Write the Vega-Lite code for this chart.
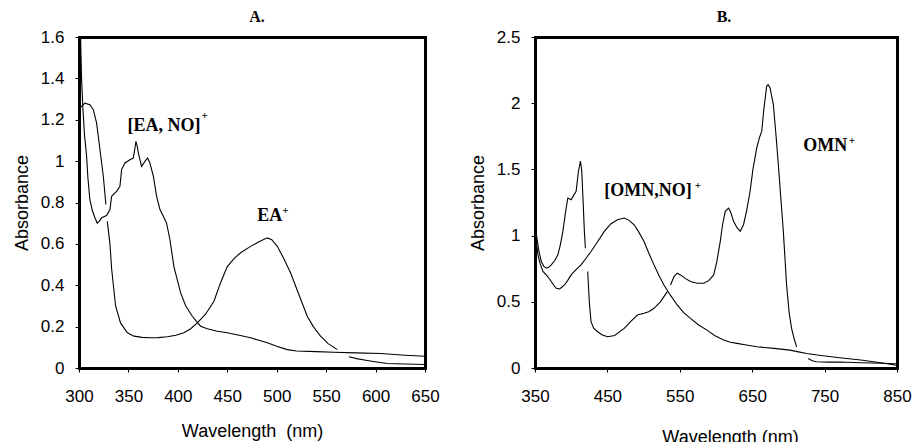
{
  "$schema": "https://vega.github.io/schema/vega-lite/v6.json",
  "padding": {"left": 13, "top": 9, "right": 2, "bottom": 2},
  "spacing": 29,
  "config": {
    "view": {"stroke": null},
    "axis": {"grid": false, "domain": true, "domainColor": "black", "domainWidth": 3, "domainCap": "square", "ticks": true, "tickSize": 4, "tickColor": "black", "labelFont": "Liberation Sans", "labelFontSize": 17, "labelColor": "black", "labelFlush": false, "labelOverlap": false, "labelBound": false, "titleFont": "Liberation Sans", "titleFontSize": 18, "titleFontWeight": "normal", "titleColor": "black"},
    "axisX": {"labelPadding": 16, "titlePadding": 18},
    "axisY": {"labelPadding": 11, "titlePadding": 9},
    "title": {"font": "Liberation Serif", "fontSize": 16, "fontWeight": "bold", "color": "black"}
  },
  "datasets": {
    "specA": [
      {"s": "EA+ 1", "wl": 301, "abs": 1.257}, {"s": "EA+ 1", "wl": 306, "abs": 1.28}, {"s": "EA+ 1", "wl": 311, "abs": 1.273}, {"s": "EA+ 1", "wl": 314.5, "abs": 1.249}, {"s": "EA+ 1", "wl": 317.8, "abs": 1.184}, {"s": "EA+ 1", "wl": 321.2, "abs": 1.056}, {"s": "EA+ 1", "wl": 324.6, "abs": 0.927}, {"s": "EA+ 1", "wl": 327.2, "abs": 0.79},
      {"s": "EA+ 2", "wl": 328.6, "abs": 0.709}, {"s": "EA+ 2", "wl": 331.3, "abs": 0.6}, {"s": "EA+ 2", "wl": 333, "abs": 0.48}, {"s": "EA+ 2", "wl": 337, "abs": 0.3}, {"s": "EA+ 2", "wl": 342, "abs": 0.218}, {"s": "EA+ 2", "wl": 348.9, "abs": 0.17}, {"s": "EA+ 2", "wl": 355.6, "abs": 0.154}, {"s": "EA+ 2", "wl": 364, "abs": 0.148}, {"s": "EA+ 2", "wl": 372.4, "abs": 0.146}, {"s": "EA+ 2", "wl": 380, "abs": 0.147}, {"s": "EA+ 2", "wl": 389.3, "abs": 0.151}, {"s": "EA+ 2", "wl": 398, "abs": 0.158}, {"s": "EA+ 2", "wl": 406.1, "abs": 0.17}, {"s": "EA+ 2", "wl": 413, "abs": 0.19}, {"s": "EA+ 2", "wl": 419.7, "abs": 0.218}, {"s": "EA+ 2", "wl": 428, "abs": 0.26}, {"s": "EA+ 2", "wl": 436.5, "abs": 0.323}, {"s": "EA+ 2", "wl": 443, "abs": 0.41}, {"s": "EA+ 2", "wl": 450, "abs": 0.49}, {"s": "EA+ 2", "wl": 457, "abs": 0.53}, {"s": "EA+ 2", "wl": 463.5, "abs": 0.557}, {"s": "EA+ 2", "wl": 473.6, "abs": 0.588}, {"s": "EA+ 2", "wl": 482, "abs": 0.61}, {"s": "EA+ 2", "wl": 490.5, "abs": 0.629}, {"s": "EA+ 2", "wl": 495, "abs": 0.62}, {"s": "EA+ 2", "wl": 500.6, "abs": 0.588}, {"s": "EA+ 2", "wl": 507, "abs": 0.53}, {"s": "EA+ 2", "wl": 514, "abs": 0.46}, {"s": "EA+ 2", "wl": 522, "abs": 0.36}, {"s": "EA+ 2", "wl": 530.9, "abs": 0.25}, {"s": "EA+ 2", "wl": 537, "abs": 0.2}, {"s": "EA+ 2", "wl": 544.3, "abs": 0.154}, {"s": "EA+ 2", "wl": 552, "abs": 0.118}, {"s": "EA+ 2", "wl": 561.3, "abs": 0.089},
      {"s": "EA+ 3", "wl": 573, "abs": 0.054}, {"s": "EA+ 3", "wl": 582, "abs": 0.044}, {"s": "EA+ 3", "wl": 591.6, "abs": 0.036}, {"s": "EA+ 3", "wl": 601, "abs": 0.029}, {"s": "EA+ 3", "wl": 611.9, "abs": 0.022}, {"s": "EA+ 3", "wl": 630, "abs": 0.019}, {"s": "EA+ 3", "wl": 650, "abs": 0.017},
      {"s": "EANO", "wl": 301.6, "abs": 1.6}, {"s": "EANO", "wl": 302.6, "abs": 1.4}, {"s": "EANO", "wl": 304, "abs": 1.25}, {"s": "EANO", "wl": 305.5, "abs": 1.13}, {"s": "EANO", "wl": 307.7, "abs": 1.023}, {"s": "EANO", "wl": 309, "abs": 0.92}, {"s": "EANO", "wl": 311, "abs": 0.814}, {"s": "EANO", "wl": 313.5, "abs": 0.76}, {"s": "EANO", "wl": 316.1, "abs": 0.726}, {"s": "EANO", "wl": 318.5, "abs": 0.7}, {"s": "EANO", "wl": 320.5, "abs": 0.71}, {"s": "EANO", "wl": 322.9, "abs": 0.726}, {"s": "EANO", "wl": 327.9, "abs": 0.737}, {"s": "EANO", "wl": 331.3, "abs": 0.766}, {"s": "EANO", "wl": 333, "abs": 0.83}, {"s": "EANO", "wl": 338, "abs": 0.854}, {"s": "EANO", "wl": 341.4, "abs": 0.878}, {"s": "EANO", "wl": 343.1, "abs": 0.959}, {"s": "EANO", "wl": 346.5, "abs": 0.991}, {"s": "EANO", "wl": 351.5, "abs": 1.007}, {"s": "EANO", "wl": 354.9, "abs": 1.015}, {"s": "EANO", "wl": 356.5, "abs": 1.06}, {"s": "EANO", "wl": 357.6, "abs": 1.096}, {"s": "EANO", "wl": 359, "abs": 1.07}, {"s": "EANO", "wl": 360, "abs": 1.04}, {"s": "EANO", "wl": 363.3, "abs": 0.975}, {"s": "EANO", "wl": 366.7, "abs": 0.999}, {"s": "EANO", "wl": 369.4, "abs": 1.015}, {"s": "EANO", "wl": 371.7, "abs": 0.991}, {"s": "EANO", "wl": 375.2, "abs": 0.927}, {"s": "EANO", "wl": 378.5, "abs": 0.83}, {"s": "EANO", "wl": 381.9, "abs": 0.766}, {"s": "EANO", "wl": 385.3, "abs": 0.733}, {"s": "EANO", "wl": 388.6, "abs": 0.7}, {"s": "EANO", "wl": 392, "abs": 0.62}, {"s": "EANO", "wl": 396, "abs": 0.49}, {"s": "EANO", "wl": 402.8, "abs": 0.363}, {"s": "EANO", "wl": 408, "abs": 0.3}, {"s": "EANO", "wl": 414.6, "abs": 0.25}, {"s": "EANO", "wl": 423, "abs": 0.202}, {"s": "EANO", "wl": 429.8, "abs": 0.19}, {"s": "EANO", "wl": 440, "abs": 0.178}, {"s": "EANO", "wl": 450, "abs": 0.17}, {"s": "EANO", "wl": 462, "abs": 0.158}, {"s": "EANO", "wl": 473.6, "abs": 0.146}, {"s": "EANO", "wl": 482, "abs": 0.134}, {"s": "EANO", "wl": 490.5, "abs": 0.122}, {"s": "EANO", "wl": 500, "abs": 0.105}, {"s": "EANO", "wl": 510.7, "abs": 0.089}, {"s": "EANO", "wl": 520, "abs": 0.082}, {"s": "EANO", "wl": 540, "abs": 0.079}, {"s": "EANO", "wl": 557.8, "abs": 0.076}, {"s": "EANO", "wl": 580, "abs": 0.073}, {"s": "EANO", "wl": 605, "abs": 0.07}, {"s": "EANO", "wl": 630, "abs": 0.062}, {"s": "EANO", "wl": 650, "abs": 0.057}
    ],
    "specB": [
      {"s": "OMN 1", "wl": 350.3, "abs": 1.05}, {"s": "OMN 1", "wl": 352.7, "abs": 0.981}, {"s": "OMN 1", "wl": 355.5, "abs": 0.88}, {"s": "OMN 1", "wl": 358.7, "abs": 0.804}, {"s": "OMN 1", "wl": 362, "abs": 0.77}, {"s": "OMN 1", "wl": 365.6, "abs": 0.754}, {"s": "OMN 1", "wl": 369, "abs": 0.76}, {"s": "OMN 1", "wl": 372.4, "abs": 0.779}, {"s": "OMN 1", "wl": 377, "abs": 0.81}, {"s": "OMN 1", "wl": 381.6, "abs": 0.855}, {"s": "OMN 1", "wl": 385, "abs": 0.93}, {"s": "OMN 1", "wl": 388.5, "abs": 1.032}, {"s": "OMN 1", "wl": 392, "abs": 1.17}, {"s": "OMN 1", "wl": 395.3, "abs": 1.284}, {"s": "OMN 1", "wl": 399.9, "abs": 1.271}, {"s": "OMN 1", "wl": 403, "abs": 1.3}, {"s": "OMN 1", "wl": 406.8, "abs": 1.335}, {"s": "OMN 1", "wl": 410, "abs": 1.486}, {"s": "OMN 1", "wl": 412.8, "abs": 1.562}, {"s": "OMN 1", "wl": 414.6, "abs": 1.486}, {"s": "OMN 1", "wl": 416.5, "abs": 1.25}, {"s": "OMN 1", "wl": 418.2, "abs": 1.032}, {"s": "OMN 1", "wl": 419.6, "abs": 0.905},
      {"s": "OMN 2", "wl": 422.8, "abs": 0.729}, {"s": "OMN 2", "wl": 425, "abs": 0.5}, {"s": "OMN 2", "wl": 427.4, "abs": 0.35}, {"s": "OMN 2", "wl": 431, "abs": 0.3}, {"s": "OMN 2", "wl": 436.5, "abs": 0.274}, {"s": "OMN 2", "wl": 443, "abs": 0.25}, {"s": "OMN 2", "wl": 450.3, "abs": 0.236}, {"s": "OMN 2", "wl": 460, "abs": 0.245}, {"s": "OMN 2", "wl": 473.2, "abs": 0.299}, {"s": "OMN 2", "wl": 482, "abs": 0.35}, {"s": "OMN 2", "wl": 491.5, "abs": 0.4}, {"s": "OMN 2", "wl": 500.6, "abs": 0.413}, {"s": "OMN 2", "wl": 507, "abs": 0.425}, {"s": "OMN 2", "wl": 514.4, "abs": 0.451}, {"s": "OMN 2", "wl": 523.5, "abs": 0.501}, {"s": "OMN 2", "wl": 532.7, "abs": 0.577},
      {"s": "OMN 3", "wl": 537.2, "abs": 0.627}, {"s": "OMN 3", "wl": 542, "abs": 0.69}, {"s": "OMN 3", "wl": 546.4, "abs": 0.716}, {"s": "OMN 3", "wl": 551, "abs": 0.703}, {"s": "OMN 3", "wl": 558, "abs": 0.675}, {"s": "OMN 3", "wl": 564.7, "abs": 0.653}, {"s": "OMN 3", "wl": 574, "abs": 0.64}, {"s": "OMN 3", "wl": 583, "abs": 0.64}, {"s": "OMN 3", "wl": 590, "abs": 0.66}, {"s": "OMN 3", "wl": 596.8, "abs": 0.703}, {"s": "OMN 3", "wl": 601, "abs": 0.8}, {"s": "OMN 3", "wl": 605.9, "abs": 0.956}, {"s": "OMN 3", "wl": 609, "abs": 1.08}, {"s": "OMN 3", "wl": 612.8, "abs": 1.183}, {"s": "OMN 3", "wl": 617.4, "abs": 1.208}, {"s": "OMN 3", "wl": 620, "abs": 1.18}, {"s": "OMN 3", "wl": 624.3, "abs": 1.108}, {"s": "OMN 3", "wl": 629, "abs": 1.06}, {"s": "OMN 3", "wl": 633.4, "abs": 1.032}, {"s": "OMN 3", "wl": 638, "abs": 1.082}, {"s": "OMN 3", "wl": 642, "abs": 1.18}, {"s": "OMN 3", "wl": 647.1, "abs": 1.335}, {"s": "OMN 3", "wl": 651, "abs": 1.5}, {"s": "OMN 3", "wl": 656.3, "abs": 1.663}, {"s": "OMN 3", "wl": 660, "abs": 1.74}, {"s": "OMN 3", "wl": 663.2, "abs": 1.789}, {"s": "OMN 3", "wl": 666, "abs": 1.95}, {"s": "OMN 3", "wl": 670, "abs": 2.13}, {"s": "OMN 3", "wl": 672, "abs": 2.14}, {"s": "OMN 3", "wl": 674.6, "abs": 2.117}, {"s": "OMN 3", "wl": 679.2, "abs": 1.991}, {"s": "OMN 3", "wl": 683, "abs": 1.75}, {"s": "OMN 3", "wl": 686.1, "abs": 1.536}, {"s": "OMN 3", "wl": 690, "abs": 1.25}, {"s": "OMN 3", "wl": 693, "abs": 1.032}, {"s": "OMN 3", "wl": 697.5, "abs": 0.627}, {"s": "OMN 3", "wl": 701, "abs": 0.42}, {"s": "OMN 3", "wl": 704.4, "abs": 0.299}, {"s": "OMN 3", "wl": 708, "abs": 0.22}, {"s": "OMN 3", "wl": 711.3, "abs": 0.16},
      {"s": "OMN 4", "wl": 727.3, "abs": 0.072}, {"s": "OMN 4", "wl": 733, "abs": 0.055}, {"s": "OMN 4", "wl": 738.7, "abs": 0.047}, {"s": "OMN 4", "wl": 755, "abs": 0.044}, {"s": "OMN 4", "wl": 770.8, "abs": 0.045}, {"s": "OMN 4", "wl": 800, "abs": 0.04}, {"s": "OMN 4", "wl": 830, "abs": 0.036}, {"s": "OMN 4", "wl": 848.6, "abs": 0.032},
      {"s": "OMNNO", "wl": 350.3, "abs": 1.06}, {"s": "OMNNO", "wl": 352, "abs": 0.95}, {"s": "OMNNO", "wl": 354.1, "abs": 0.855}, {"s": "OMNNO", "wl": 357, "abs": 0.79}, {"s": "OMNNO", "wl": 361, "abs": 0.729}, {"s": "OMNNO", "wl": 365.6, "abs": 0.703}, {"s": "OMNNO", "wl": 369, "abs": 0.68}, {"s": "OMNNO", "wl": 372.4, "abs": 0.653}, {"s": "OMNNO", "wl": 376, "abs": 0.625}, {"s": "OMNNO", "wl": 379.3, "abs": 0.602}, {"s": "OMNNO", "wl": 383.9, "abs": 0.597}, {"s": "OMNNO", "wl": 387, "abs": 0.61}, {"s": "OMNNO", "wl": 390.8, "abs": 0.627}, {"s": "OMNNO", "wl": 395, "abs": 0.66}, {"s": "OMNNO", "wl": 399.9, "abs": 0.703}, {"s": "OMNNO", "wl": 406, "abs": 0.74}, {"s": "OMNNO", "wl": 413.6, "abs": 0.779}, {"s": "OMNNO", "wl": 420, "abs": 0.825}, {"s": "OMNNO", "wl": 427.4, "abs": 0.88}, {"s": "OMNNO", "wl": 436, "abs": 0.95}, {"s": "OMNNO", "wl": 445.7, "abs": 1.032}, {"s": "OMNNO", "wl": 455, "abs": 1.09}, {"s": "OMNNO", "wl": 464, "abs": 1.12}, {"s": "OMNNO", "wl": 473.2, "abs": 1.133}, {"s": "OMNNO", "wl": 480, "abs": 1.115}, {"s": "OMNNO", "wl": 486.9, "abs": 1.082}, {"s": "OMNNO", "wl": 493, "abs": 1.03}, {"s": "OMNNO", "wl": 500.6, "abs": 0.956}, {"s": "OMNNO", "wl": 507, "abs": 0.87}, {"s": "OMNNO", "wl": 514.4, "abs": 0.779}, {"s": "OMNNO", "wl": 521, "abs": 0.7}, {"s": "OMNNO", "wl": 528.1, "abs": 0.627}, {"s": "OMNNO", "wl": 537, "abs": 0.55}, {"s": "OMNNO", "wl": 546.4, "abs": 0.476}, {"s": "OMNNO", "wl": 555, "abs": 0.42}, {"s": "OMNNO", "wl": 564.7, "abs": 0.375}, {"s": "OMNNO", "wl": 576, "abs": 0.325}, {"s": "OMNNO", "wl": 587.6, "abs": 0.286}, {"s": "OMNNO", "wl": 598, "abs": 0.245}, {"s": "OMNNO", "wl": 610.5, "abs": 0.211}, {"s": "OMNNO", "wl": 620, "abs": 0.195}, {"s": "OMNNO", "wl": 628.8, "abs": 0.186}, {"s": "OMNNO", "wl": 640, "abs": 0.175}, {"s": "OMNNO", "wl": 656.3, "abs": 0.161}, {"s": "OMNNO", "wl": 680, "abs": 0.148}, {"s": "OMNNO", "wl": 702, "abs": 0.135}, {"s": "OMNNO", "wl": 714, "abs": 0.122}, {"s": "OMNNO", "wl": 724.9, "abs": 0.11}, {"s": "OMNNO", "wl": 745, "abs": 0.095}, {"s": "OMNNO", "wl": 770.8, "abs": 0.078}, {"s": "OMNNO", "wl": 800, "abs": 0.06}, {"s": "OMNNO", "wl": 830, "abs": 0.038}, {"s": "OMNNO", "wl": 848.6, "abs": 0.021}
    ],
    "labA": [{"wl": 349, "abs": 1.144, "text": "[EA, NO]"}, {"wl": 480.3, "abs": 0.712, "text": "EA"}],
    "supA": [{"wl": 427, "abs": 1.217, "text": "+"}, {"wl": 508.9, "abs": 0.76, "text": "+"}],
    "labB": [{"wl": 445.7, "abs": 1.3, "text": "[OMN,NO]"}, {"wl": 720.5, "abs": 1.64, "text": "OMN"}],
    "supB": [{"wl": 575, "abs": 1.373, "text": "+"}, {"wl": 787.8, "abs": 1.718, "text": "+"}]
  },
  "hconcat": [
    {
      "width": 346,
      "height": 331,
      "title": {"text": "A.", "offset": 3, "dx": 5},
      "resolve": {"axis": {"x": "independent", "y": "independent"}},
      "layer": [
        {
          "data": {"name": "specA"},
          "mark": {"type": "line", "color": "black", "strokeWidth": 1.1},
          "encoding": {
            "x": {"field": "wl", "type": "quantitative", "scale": {"domain": [300, 650], "nice": false, "zero": false}, "axis": {"values": [300, 350, 400, 450, 500, 550, 600, 650], "title": "Wavelength \u00a0(nm)"}},
            "y": {"field": "abs", "type": "quantitative", "scale": {"domain": [0, 1.6], "nice": false}, "axis": {"values": [0, 0.2, 0.4, 0.6, 0.8, 1, 1.2, 1.4, 1.6], "format": "~g", "title": "Absorbance"}},
            "detail": {"field": "s", "type": "nominal"}
          }
        },
        {
          "data": {"name": "labA"},
          "mark": {"type": "text", "font": "Liberation Serif", "fontWeight": "bold", "fontSize": 18, "align": "left", "baseline": "alphabetic", "color": "black"},
          "encoding": {
            "x": {"field": "wl", "type": "quantitative", "axis": {"orient": "top", "labels": false, "ticks": false, "title": null}},
            "y": {"field": "abs", "type": "quantitative", "axis": {"orient": "right", "labels": false, "ticks": false, "title": null}},
            "text": {"field": "text"}
          }
        },
        {
          "data": {"name": "supA"},
          "mark": {"type": "text", "font": "Liberation Serif", "fontWeight": "bold", "fontSize": 11, "align": "center", "baseline": "middle", "color": "black"},
          "encoding": {"x": {"field": "wl", "type": "quantitative", "axis": null}, "y": {"field": "abs", "type": "quantitative", "axis": null}, "text": {"field": "text"}}
        }
      ]
    },
    {
      "width": 362,
      "height": 331,
      "title": {"text": "B.", "offset": 3, "dx": 8},
      "resolve": {"axis": {"x": "independent", "y": "independent"}},
      "layer": [
        {
          "data": {"name": "specB"},
          "mark": {"type": "line", "color": "black", "strokeWidth": 1.1},
          "encoding": {
            "x": {"field": "wl", "type": "quantitative", "scale": {"domain": [350, 850], "nice": false, "zero": false}, "axis": {"values": [350, 450, 550, 650, 750, 850], "title": "Wavelength (nm)", "titlePadding": 24, "titleX": 195}},
            "y": {"field": "abs", "type": "quantitative", "scale": {"domain": [0, 2.5], "nice": false}, "axis": {"values": [0, 0.5, 1, 1.5, 2, 2.5], "format": "~g", "title": "Absorbance"}},
            "detail": {"field": "s", "type": "nominal"}
          }
        },
        {
          "data": {"name": "labB"},
          "mark": {"type": "text", "font": "Liberation Serif", "fontWeight": "bold", "fontSize": 18, "align": "left", "baseline": "alphabetic", "color": "black"},
          "encoding": {
            "x": {"field": "wl", "type": "quantitative", "axis": {"orient": "top", "labels": false, "ticks": false, "title": null}},
            "y": {"field": "abs", "type": "quantitative", "axis": {"orient": "right", "labels": false, "ticks": false, "title": null}},
            "text": {"field": "text"}
          }
        },
        {
          "data": {"name": "supB"},
          "mark": {"type": "text", "font": "Liberation Serif", "fontWeight": "bold", "fontSize": 11, "align": "center", "baseline": "middle", "color": "black"},
          "encoding": {"x": {"field": "wl", "type": "quantitative", "axis": null}, "y": {"field": "abs", "type": "quantitative", "axis": null}, "text": {"field": "text"}}
        }
      ]
    }
  ]
}
